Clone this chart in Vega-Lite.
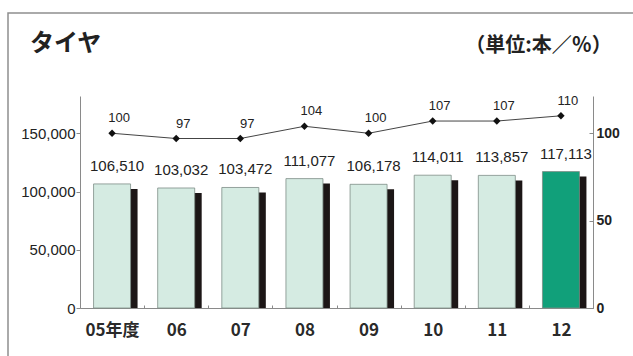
{
  "$schema": "https://vega.github.io/schema/vega-lite/v6.json",
  "width": 640,
  "height": 360,
  "autosize": {"type": "none"},
  "padding": {"left": 8, "top": 13, "right": 0, "bottom": 0},
  "background": "white",
  "config": {
    "view": {"stroke": "#8e8e8e", "strokeWidth": 1.5},
    "font": "Liberation Sans",
    "axis": {"grid": false, "title": null, "domainColor": "#8a8a8a", "tickColor": "#8a8a8a", "labelColor": "#222222", "labelFont": "Liberation Sans"}
  },
  "title": {
    "text": "タイヤ",
    "anchor": "start",
    "frame": "group",
    "font": "Noto Sans CJK JP",
    "fontSize": 24,
    "fontWeight": "bold",
    "color": "#222222",
    "offset": 0,
    "baseline": "middle",
    "dx": 22,
    "dy": 55
  },
  "data": {
    "values": [
      {"年度": "05年度", "本数": 106510, "指数": 100},
      {"年度": "06", "本数": 103032, "指数": 97},
      {"年度": "07", "本数": 103472, "指数": 97},
      {"年度": "08", "本数": 111077, "指数": 104},
      {"年度": "09", "本数": 106178, "指数": 100},
      {"年度": "10", "本数": 114011, "指数": 107},
      {"年度": "11", "本数": 113857, "指数": 107},
      {"年度": "12", "本数": 117113, "指数": 110}
    ]
  },
  "encoding": {
    "x": {
      "field": "年度",
      "type": "ordinal",
      "sort": null,
      "scale": {"range": [72, 585], "paddingInner": 0, "paddingOuter": 0},
      "axis": {
        "orient": "bottom",
        "offset": -65,
        "labelAngle": 0,
        "tickBand": "extent",
        "tickSize": -3,
        "labelPadding": 17,
        "labelFont": "Noto Sans CJK JP",
        "labelFontSize": 17,
        "labelFontWeight": "bold",
        "labelColor": "#2a2a2a"
      }
    }
  },
  "layer": [
    {
      "encoding": {
        "y": {
          "field": "本数",
          "type": "quantitative",
          "scale": {"domain": [0, 182000], "range": [295, 83], "nice": false},
          "axis": {
            "orient": "left",
            "offset": -72,
            "values": [0, 50000, 100000, 150000],
            "format": ",d",
            "tickSize": 4,
            "labelPadding": 1,
            "labelFontSize": 15
          }
        }
      },
      "layer": [
        {
          "mark": {"type": "bar", "width": 37, "xOffset": 7, "yOffset": 5, "y2Offset": 0, "color": "#1c1616"},
          "encoding": {"y2": {"datum": 0}}
        },
        {
          "mark": {"type": "bar", "width": 37, "stroke": "#7d8d86", "strokeWidth": 0.8},
          "encoding": {
            "fill": {
              "condition": {"test": "datum['年度'] === '12'", "value": "#11a07a"},
              "value": "#d5ebe2"
            }
          }
        },
        {
          "mark": {"type": "text", "baseline": "bottom", "dx": 5, "dy": -10, "fontSize": 15, "color": "#222222"},
          "encoding": {"text": {"field": "本数", "type": "quantitative", "format": ",d"}}
        }
      ]
    },
    {
      "encoding": {
        "y": {
          "field": "指数",
          "type": "quantitative",
          "scale": {"domain": [0, 121.33], "range": [295, 83], "nice": false},
          "axis": {
            "orient": "right",
            "offset": -55,
            "values": [0, 50, 100],
            "tickSize": -4,
            "labelPadding": 7,
            "labelFontSize": 14,
            "labelFontWeight": "bold",
            "title": "（単位:本／％）",
            "titleAngle": 0,
            "titleX": -55,
            "titleY": 32,
            "titleAlign": "center",
            "titleBaseline": "middle",
            "titleFont": "Noto Sans CJK JP",
            "titleFontSize": 20,
            "titleFontWeight": "bold",
            "titleColor": "#222222"
          }
        }
      },
      "layer": [
        {"mark": {"type": "line", "color": "#444444", "strokeWidth": 1}},
        {"mark": {"type": "point", "shape": "diamond", "filled": true, "color": "#111111", "size": 55, "opacity": 1}},
        {
          "mark": {"type": "text", "baseline": "bottom", "dx": 7, "dy": -8, "fontSize": 13, "color": "#222222"},
          "encoding": {"text": {"field": "指数", "type": "quantitative"}}
        }
      ]
    }
  ],
  "resolve": {"scale": {"y": "independent"}}
}
